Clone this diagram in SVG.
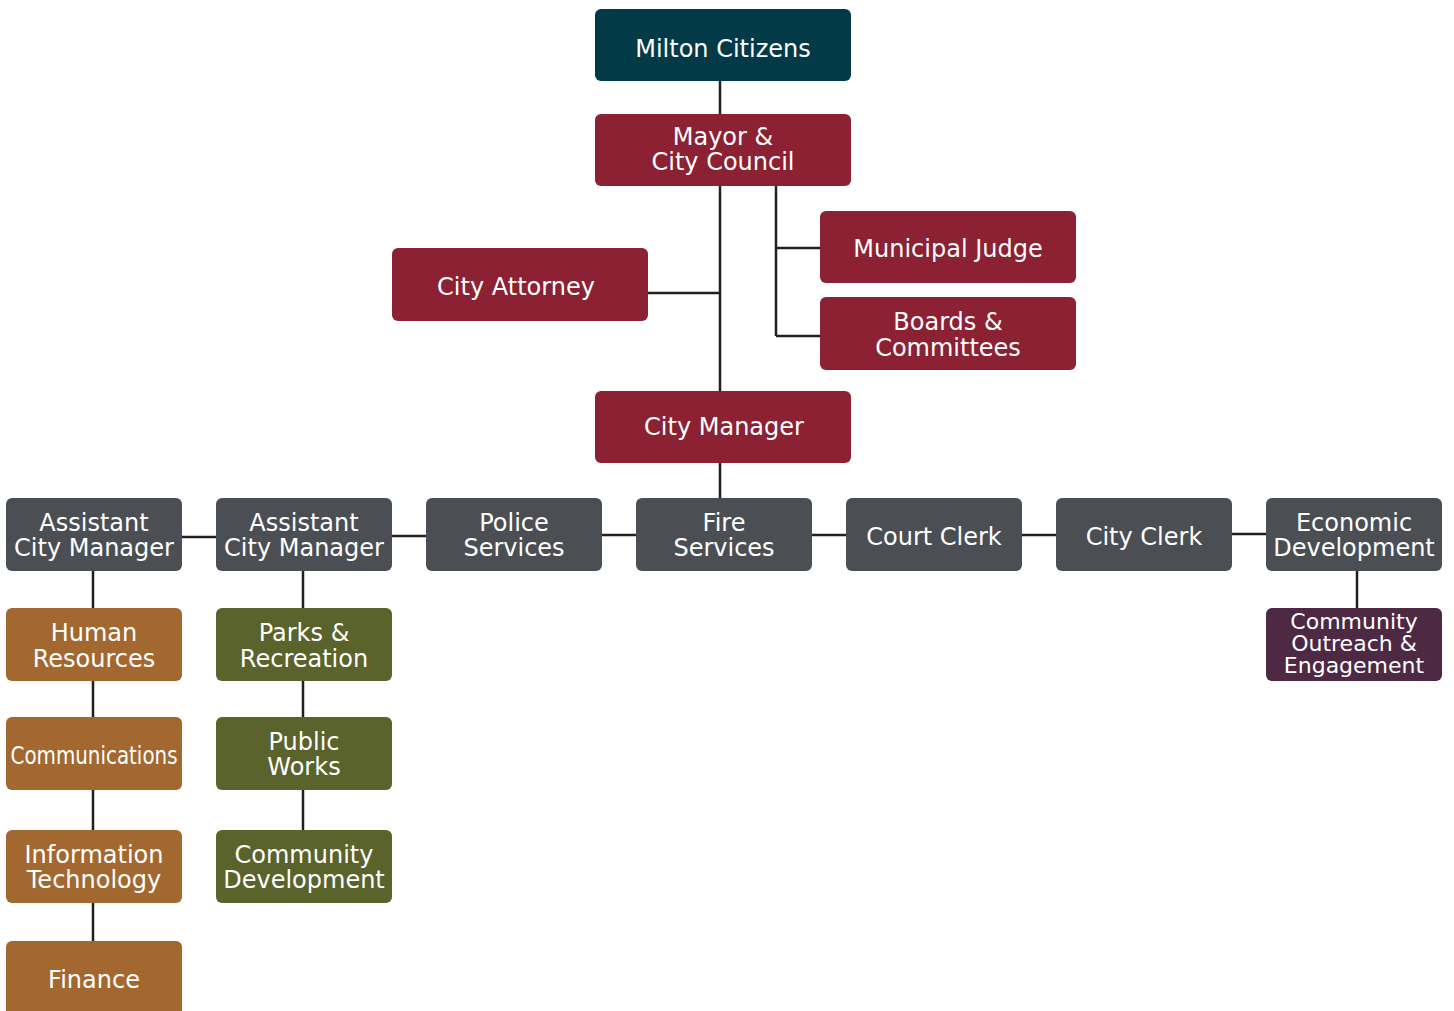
<svg xmlns="http://www.w3.org/2000/svg" width="1454" height="1011" viewBox="0 0 1454 1011">
<style>
.b rect{rx:6;ry:6}
.t{font-family:"DejaVu Sans","Liberation Sans",sans-serif;font-size:24px;fill:#fff;text-anchor:middle}
.s{font-size:22px}
.teal{fill:#033A48}.red{fill:#8B2132}.gray{fill:#4B4F54}.org{fill:#A3682F}.grn{fill:#59632B}.pur{fill:#4D2944}
#connectors{stroke:#231F20;stroke-width:2.5;fill:none}
</style>
<rect width="1454" height="1011" fill="#fff"/>
<g id="connectors">
<path d="M720 81V114M720 186V391M648 293H720M776 186V336M776 248H820M776 336H820M720 463V498"/>
<path d="M182 537H216M392 536H426M602 535H636M812 535H846M1022 535H1056M1232 534H1266"/>
<path d="M93 571V608M93 681V717M93 790V830M93 903V941M303 571V608M303 681V717M303 790V830M1357 571V608"/>
</g>
<g id="milton" class="b"><rect class="teal" x="595" y="9" width="256" height="72"/><text class="t" x="723" y="57">Milton Citizens</text></g>
<g id="mayor" class="b"><rect class="red" x="595" y="114" width="256" height="72"/><text class="t" x="723" y="145">Mayor &amp;</text><text class="t" x="723" y="170">City Council</text></g>
<g id="judge" class="b"><rect class="red" x="820" y="211" width="256" height="72"/><text class="t" x="948" y="257">Municipal Judge</text></g>
<g id="boards" class="b"><rect class="red" x="820" y="297" width="256" height="73"/><text class="t" x="948" y="330">Boards &amp;</text><text class="t" x="948" y="356">Committees</text></g>
<g id="attorney" class="b"><rect class="red" x="392" y="248" width="256" height="73"/><text class="t" x="516" y="295">City Attorney</text></g>
<g id="manager" class="b"><rect class="red" x="595" y="391" width="256" height="72"/><text class="t" x="724" y="435">City Manager</text></g>
<g id="acm1" class="b"><rect class="gray" x="6" y="498" width="176" height="73"/><text class="t" x="94" y="531">Assistant</text><text class="t" x="94" y="556">City Manager</text></g>
<g id="acm2" class="b"><rect class="gray" x="216" y="498" width="176" height="73"/><text class="t" x="304" y="531">Assistant</text><text class="t" x="304" y="556">City Manager</text></g>
<g id="police" class="b"><rect class="gray" x="426" y="498" width="176" height="73"/><text class="t" x="514" y="531">Police</text><text class="t" x="514" y="556">Services</text></g>
<g id="fire" class="b"><rect class="gray" x="636" y="498" width="176" height="73"/><text class="t" x="724" y="531">Fire</text><text class="t" x="724" y="556">Services</text></g>
<g id="court" class="b"><rect class="gray" x="846" y="498" width="176" height="73"/><text class="t" x="934" y="545">Court Clerk</text></g>
<g id="clerk" class="b"><rect class="gray" x="1056" y="498" width="176" height="73"/><text class="t" x="1144" y="545">City Clerk</text></g>
<g id="econ" class="b"><rect class="gray" x="1266" y="498" width="176" height="73"/><text class="t" x="1354" y="531">Economic</text><text class="t" x="1354" y="556">Development</text></g>
<g id="outreach" class="b"><rect class="pur" x="1266" y="608" width="176" height="73"/><text class="t s" x="1354" y="629">Community</text><text class="t s" x="1354" y="651">Outreach &amp;</text><text class="t s" x="1354" y="673">Engagement</text></g>
<g id="hr" class="b"><rect class="org" x="6" y="608" width="176" height="73"/><text class="t" x="94" y="641">Human</text><text class="t" x="94" y="667">Resources</text></g>
<g id="comms" class="b"><rect class="org" x="6" y="717" width="176" height="73"/><text class="t" x="94" y="764" textLength="167" lengthAdjust="spacingAndGlyphs">Communications</text></g>
<g id="it" class="b"><rect class="org" x="6" y="830" width="176" height="73"/><text class="t" x="94" y="863">Information</text><text class="t" x="94" y="888">Technology</text></g>
<g id="finance" class="b"><rect class="org" x="6" y="941" width="176" height="80"/><text class="t" x="94" y="988">Finance</text></g>
<g id="parks" class="b"><rect class="grn" x="216" y="608" width="176" height="73"/><text class="t" x="304" y="641">Parks &amp;</text><text class="t" x="304" y="667">Recreation</text></g>
<g id="works" class="b"><rect class="grn" x="216" y="717" width="176" height="73"/><text class="t" x="304" y="750">Public</text><text class="t" x="304" y="775">Works</text></g>
<g id="commdev" class="b"><rect class="grn" x="216" y="830" width="176" height="73"/><text class="t" x="304" y="863">Community</text><text class="t" x="304" y="888">Development</text></g>
</svg>
